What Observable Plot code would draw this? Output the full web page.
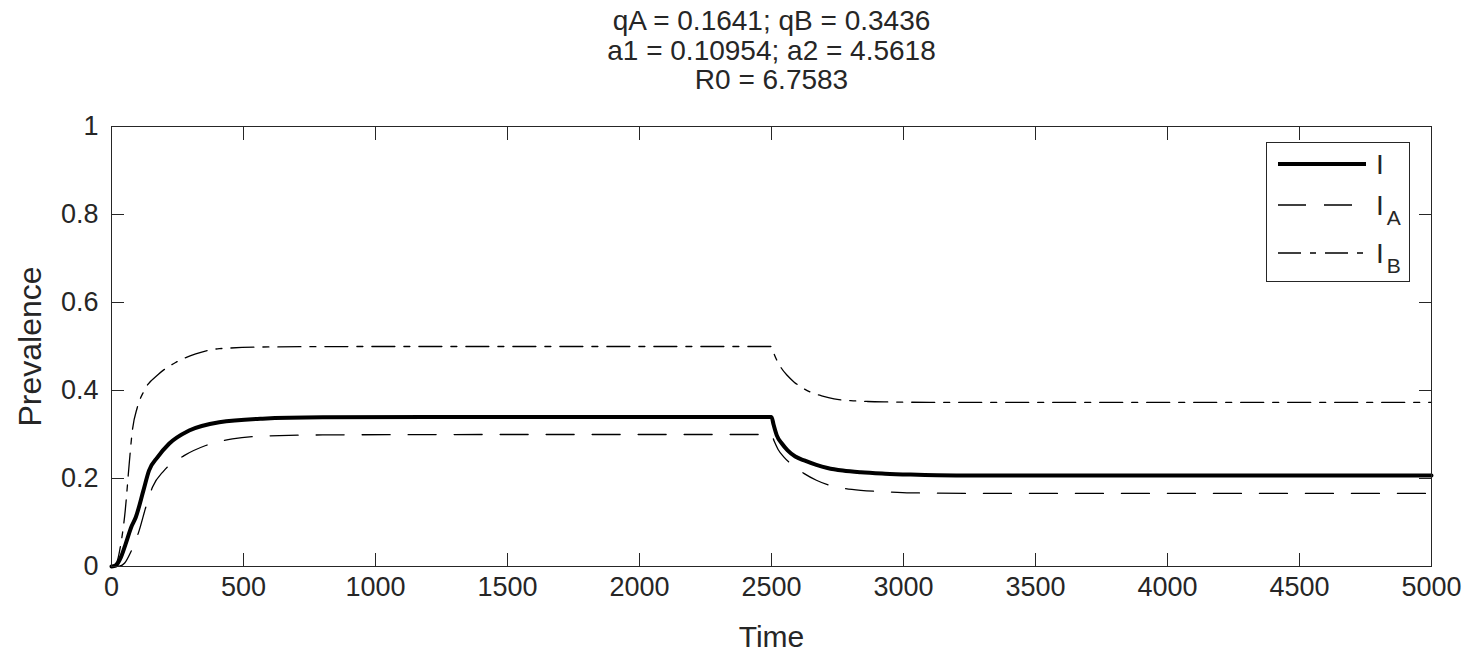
<!DOCTYPE html>
<html>
<head>
<meta charset="utf-8">
<script src="https://cdn.jsdelivr.net/npm/d3@7"></script>
<script src="https://cdn.jsdelivr.net/npm/@observablehq/plot@0.6"></script>
<style>
  html, body { margin: 0; padding: 0; background: #fff; }
  #wrap { position: relative; width: 1470px; height: 654px; font-family: "Liberation Sans", Arial, Helvetica, sans-serif; }
  #legend { position: absolute; left: 1266px; top: 142px; }
</style>
</head>
<body>
<div id="wrap"></div>
<script>
// ---- data ----
const titleLines = ["qA = 0.1641; qB = 0.3436", "a1 = 0.10954; a2 = 4.5618", "R0 = 6.7583"];
const xLabel = "Time";
const yLabel = "Prevalence";
const xTicks = [0, 500, 1000, 1500, 2000, 2500, 3000, 3500, 4000, 4500, 5000];
const yTicks = [0, 0.2, 0.4, 0.6, 0.8, 1];
const yTickLabels = ["0", "0.2", "0.4", "0.6", "0.8", "1"];

const seriesNames = ["I", "I_A", "I_B"];

const tI = [0, 16, 35, 54, 75, 92, 121, 142, 174, 218, 294, 408, 572, 800, 1200, 2000, 2500, 2508, 2520, 2540, 2561, 2590, 2624, 2670, 2712, 2770, 2838, 2930, 3027, 3200, 4000, 5000];
const vI = [0, 0.002, 0.02, 0.052, 0.09, 0.112, 0.173, 0.218, 0.248, 0.279, 0.309, 0.328, 0.336, 0.339, 0.34, 0.34, 0.34, 0.322, 0.298, 0.279, 0.264, 0.25, 0.241, 0.231, 0.224, 0.218, 0.214, 0.211, 0.209, 0.207, 0.207, 0.207];

const tA = [0, 30, 50, 73, 105, 130, 155, 199, 275, 357, 458, 558, 800, 1500, 2500, 2510, 2525, 2548, 2585, 2624, 2670, 2712, 2770, 2838, 2930, 3027, 3300, 5000];
const vA = [0, 0.001, 0.008, 0.033, 0.082, 0.135, 0.18, 0.218, 0.252, 0.275, 0.29, 0.296, 0.299, 0.3, 0.3, 0.285, 0.266, 0.248, 0.228, 0.211, 0.196, 0.186, 0.178, 0.173, 0.17, 0.1675, 0.166, 0.166];

const tB = [0, 20, 35, 52, 67, 79, 98, 124, 180, 244, 319, 408, 600, 1000, 2500, 2510, 2535, 2560, 2586, 2620, 2649, 2690, 2737, 2800, 2864, 2950, 3100, 5000];
const vB = [0, 0.01, 0.05, 0.127, 0.233, 0.309, 0.362, 0.4, 0.438, 0.464, 0.483, 0.495, 0.499, 0.5, 0.5, 0.483, 0.453, 0.434, 0.419, 0.405, 0.396, 0.388, 0.381, 0.377, 0.375, 0.374, 0.373, 0.373];

// ---- styles ----
const ink = "#262626";
const styles = {
  "I":   {strokeWidth: 4, dash: null},
  "I_A": {strokeWidth: 1.3, dash: "28,18"},
  "I_B": {strokeWidth: 1.3, dash: "23,9,6,9"}
};

const rows = [];
[[tI, vI, "I"], [tA, vA, "I_A"], [tB, vB, "I_B"]].forEach(([ts, vs, s]) => {
  ts.forEach((t, i) => rows.push({series: s, t, v: vs[i]}));
});

const lineMark = (s) => Plot.line(rows.filter(d => d.series === s), {
  x: "t", y: "v", stroke: "black", strokeWidth: styles[s].strokeWidth,
  strokeDasharray: styles[s].dash, curve: "monotone-x"
});

const chart = Plot.plot({
  width: 1470,
  height: 654,
  marginLeft: 111,
  marginRight: 39,
  marginTop: 126,
  marginBottom: 88,
  style: {fontFamily: "'Liberation Sans', Arial, Helvetica, sans-serif", fontSize: "27px", color: ink, background: "white"},
  x: {domain: [0, 5000]},
  y: {domain: [0, 1]},
  marks: [
    lineMark("I_B"),
    lineMark("I_A"),
    lineMark("I"),
    Plot.frame({stroke: ink, strokeWidth: 1}),
    Plot.axisX({anchor: "bottom", ticks: xTicks, tickSize: -13, fill: "none", stroke: ink, label: null}),
    Plot.axisX({anchor: "top", ticks: xTicks, tickSize: -13, fill: "none", stroke: ink, label: null}),
    Plot.axisY({anchor: "left", ticks: yTicks, tickSize: -13, fill: "none", stroke: ink, label: null}),
    Plot.axisY({anchor: "right", ticks: yTicks, tickSize: -13, fill: "none", stroke: ink, label: null}),
    Plot.axisX({anchor: "bottom", ticks: xTicks, tickSize: 0, tickPadding: 10, fill: ink, label: null, tickFormat: d => String(d), fontSize: 27}),
    Plot.axisY({anchor: "left", ticks: yTicks, tickSize: 0, tickPadding: 13, fill: ink, label: null, tickFormat: d => yTickLabels[yTicks.indexOf(d)], fontSize: 27}),
    Plot.text([titleLines.join("\n")], {text: d => d, frameAnchor: "top", lineAnchor: "top", lineHeight: 1.05, dy: -117, fontSize: 28, fill: ink}),
    Plot.text([xLabel], {text: d => d, frameAnchor: "bottom", lineAnchor: "middle", dy: 71, fontSize: 30, fill: ink}),
    Plot.text([yLabel], {text: d => d, frameAnchor: "left", rotate: -90, textAnchor: "middle", dx: -81, fontSize: 32, fill: ink})
  ]
});

const wrap = document.getElementById("wrap");
wrap.appendChild(chart);

// ---- legend (inside axes, top-right) ----
const lw = 144, lh = 140;
const rowY = [22, 63, 111];
const leg = d3.select(wrap).append("svg").attr("id", "legend")
  .attr("width", lw).attr("height", lh)
  .style("font-family", "'Liberation Sans', Arial, Helvetica, sans-serif");
leg.append("rect").attr("x", 0.5).attr("y", 0.5).attr("width", lw - 1).attr("height", lh - 1)
  .attr("fill", "white").attr("stroke", ink).attr("stroke-width", 1);
seriesNames.forEach((s, i) => {
  leg.append("line").attr("x1", 12).attr("x2", 100).attr("y1", rowY[i]).attr("y2", rowY[i])
    .attr("stroke", "black").attr("stroke-width", styles[s].strokeWidth)
    .attr("stroke-dasharray", styles[s].dash);
  const [main, sub] = s.split("_");
  const t = leg.append("text").attr("x", 110).attr("y", rowY[i]).attr("dy", "0.36em")
    .attr("fill", ink).attr("font-size", 28);
  t.append("tspan").text(main);
  if (sub) t.append("tspan").attr("dx", 3).attr("dy", "0.45em").attr("font-size", 21).text(sub);
});
</script>
</body>
</html>
